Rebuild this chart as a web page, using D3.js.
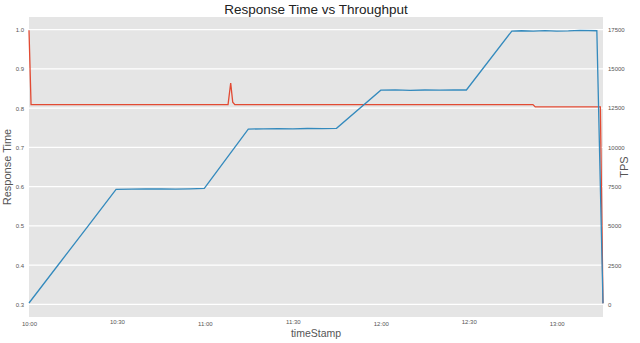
<!DOCTYPE html>
<html>
<head>
<meta charset="utf-8">
<script src="https://cdn.jsdelivr.net/npm/d3@7"></script>
<style>
  body { margin: 0; background: #fff; }
  svg text { font-family: "Liberation Sans", Arial, sans-serif; }
</style>
</head>
<body>
<div id="chart"></div>
<script>
// minutes after 10:00 for each sample
const tpsMinutes = [0, 10, 20, 29.7, 35, 40, 45, 50, 55, 59.8, 74.8, 80, 85, 90, 95, 100, 104.9, 120, 125, 130, 135, 140, 145, 149.2, 164.7, 168, 172, 176, 180, 184, 188, 193.7, 195.8];
const tpsValues  = [95, 2530, 4960, 7330, 7340, 7350, 7350, 7345, 7360, 7390, 11160, 11180, 11190, 11170, 11200, 11190, 11210, 13640, 13660, 13630, 13650, 13640, 13660, 13650, 17400, 17420, 17390, 17430, 17400, 17410, 17440, 17420, 72];

const rtMinutes = [0, 0.7, 67.9, 68.8, 69.5, 70.2, 171.9, 172.7, 194.9, 195.8];
const rtValues  = [0.998, 0.809, 0.809, 0.864, 0.815, 0.809, 0.809, 0.803, 0.803, 0.303];

const leftTicks  = [0.3, 0.4, 0.5, 0.6, 0.7, 0.8, 0.9, 1.0];
const rightTicks = [0, 2500, 5000, 7500, 10000, 12500, 15000, 17500];
const timeTicks  = ["10:00", "10:30", "11:00", "11:30", "12:00", "12:30", "13:00"];

const W = 640, H = 343;
const margin = {top: 17, right: 37, bottom: 26, left: 29};
const width = W - margin.left - margin.right;
const height = H - margin.top - margin.bottom;

const base = new Date(2020, 0, 1, 10, 0, 0);
const toDate = m => new Date(base.getTime() + m * 60000);
const parseTick = s => { const [h, m] = s.split(":").map(Number); return new Date(2020, 0, 1, h, m, 0); };

const svg = d3.select("#chart").append("svg")
    .attr("width", W)
    .attr("height", H);

const g = svg.append("g")
    .attr("transform", "translate(" + margin.left + "," + margin.top + ")");

// scales
const x = d3.scaleTime()
    .domain([toDate(0), toDate(195.8)])
    .range([0, width]);
const yLeft = d3.scaleLinear().domain([0.268, 1.032]).range([height, 0]);
const yRight = d3.scaleLinear().domain([-795, 18295]).range([height, 0]);

// grey panel
g.append("rect")
    .attr("width", width)
    .attr("height", height)
    .attr("fill", "#e5e5e5");

// horizontal grid from left ticks
g.append("g")
    .selectAll("line")
    .data(leftTicks)
    .enter().append("line")
    .attr("x1", 0).attr("x2", width)
    .attr("y1", d => yLeft(d)).attr("y2", d => yLeft(d))
    .attr("stroke", "#ffffff")
    .attr("stroke-width", 1.2);

// left axis
const axL = g.append("g")
    .call(d3.axisLeft(yLeft).tickValues(leftTicks).tickFormat(d3.format(".1f")).tickSize(0).tickPadding(5));
axL.select(".domain").remove();
axL.selectAll("text").attr("font-size", "6px").attr("fill", "#555");

// right axis
const axR = g.append("g")
    .attr("transform", "translate(" + width + ",0)")
    .call(d3.axisRight(yRight).tickValues(rightTicks).tickFormat(d3.format("d")).tickSize(0).tickPadding(5));
axR.select(".domain").remove();
axR.selectAll("text").attr("font-size", "6px").attr("fill", "#555");

// bottom axis
const axB = g.append("g")
    .attr("transform", "translate(0," + height + ")")
    .call(d3.axisBottom(x).tickValues(timeTicks.map(parseTick)).tickFormat(d3.timeFormat("%H:%M")).tickSize(0).tickPadding(5));
axB.select(".domain").remove();
axB.selectAll("text")
    .attr("font-size", "6px")
    .attr("fill", "#555")
    .attr("dy", (d, i) => i % 2 === 0 ? "0.71em" : "0.35em");

// lines
const rtLine = d3.line()
    .x((d, i) => x(toDate(rtMinutes[i])))
    .y(d => yLeft(d));
const tpsLine = d3.line()
    .x((d, i) => x(toDate(tpsMinutes[i])))
    .y(d => yRight(d));

g.append("path")
    .datum(rtValues)
    .attr("fill", "none")
    .attr("stroke", "#E24A33")
    .attr("stroke-width", 1.3)
    .attr("d", rtLine);

g.append("path")
    .datum(tpsValues)
    .attr("fill", "none")
    .attr("stroke", "#348ABD")
    .attr("stroke-width", 1.3)
    .attr("d", tpsLine);

// title and axis labels
svg.append("text")
    .attr("x", margin.left + width / 2)
    .attr("y", 14)
    .attr("text-anchor", "middle")
    .attr("font-size", "13.5px")
    .attr("fill", "#222")
    .text("Response Time vs Throughput");

svg.append("text")
    .attr("x", margin.left + width / 2)
    .attr("y", 337)
    .attr("text-anchor", "middle")
    .attr("font-size", "10.5px")
    .attr("fill", "#555")
    .text("timeStamp");

svg.append("text")
    .attr("transform", "translate(11," + (margin.top + height / 2) + ") rotate(-90)")
    .attr("text-anchor", "middle")
    .attr("font-size", "11px")
    .attr("fill", "#555")
    .text("Response Time");

svg.append("text")
    .attr("transform", "translate(628," + (margin.top + height / 2) + ") rotate(-90)")
    .attr("text-anchor", "middle")
    .attr("font-size", "11px")
    .attr("fill", "#555")
    .text("TPS");
</script>
</body>
</html>
